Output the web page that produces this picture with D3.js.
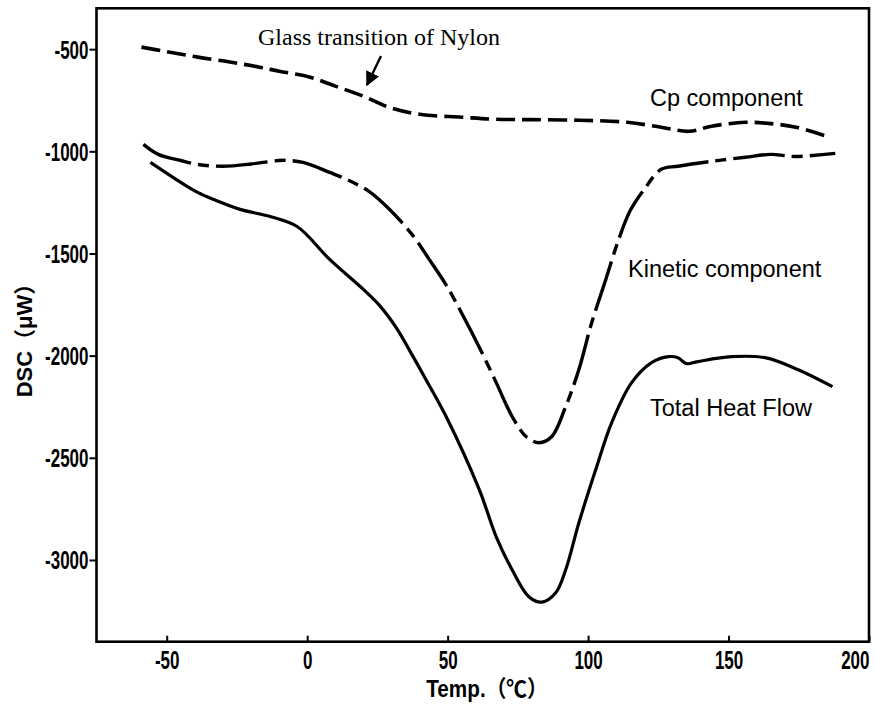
<!DOCTYPE html>
<html>
<head>
<meta charset="utf-8">
<script src="https://cdn.jsdelivr.net/npm/d3@7"></script>
<style>
  html, body { margin: 0; padding: 0; background: #fff; }
  svg { display: block; }
</style>
</head>
<body>
<svg id="chart" width="875" height="704"></svg>
<script>
// ---- Data ----
const cpTemp   = [-59, -50, -39, -27, -17, -10, 1, 10, 20, 29, 40, 55, 67, 80, 97, 114, 126, 136, 144, 156, 164, 174, 186];
const cpValues = [-490, -512, -539, -564, -588, -608, -637, -681, -730, -784, -819, -833, -843, -845, -848, -858, -882, -902, -877, -858, -863, -882, -931];

const kinTemp   = [-58.3, -53, -45, -39, -30, -20, -15.6, -8.6, -1.5, 8, 14, 22, 29, 37.5, 43.5, 49.5, 55.3, 61.3, 67.3, 73, 78, 82.5, 87, 92, 96.7, 101.3, 106.3, 110.9, 115, 120, 126, 132, 144, 156, 165, 173.6, 188];
const kinValues = [-966, -1015, -1045, -1064, -1073, -1062, -1054, -1044, -1054, -1103, -1137, -1196, -1280, -1410, -1530, -1655, -1800, -1960, -2132, -2299, -2397, -2426, -2397, -2250, -2069, -1838, -1627, -1431, -1290, -1186, -1088, -1073, -1049, -1029, -1015, -1025, -1010];

const totTemp   = [-55.8, -45, -39, -33.4, -23.9, -13.2, -3.6, 8, 20, 25.8, 31.8, 37.5, 42.4, 49.5, 61.3, 67.3, 73, 79, 83.6, 88.4, 92, 96.7, 102.7, 108.4, 115.5, 122.6, 128.6, 132, 135, 139, 151, 163, 174.8, 187];
const totValues = [-1054, -1152, -1201, -1235, -1284, -1319, -1368, -1529, -1676, -1755, -1865, -2000, -2120, -2299, -2657, -2887, -3049, -3181, -3206, -3162, -3049, -2819, -2559, -2328, -2132, -2034, -2005, -2010, -2039, -2029, -2005, -2010, -2069, -2152];

const xTicks = [-50, 0, 50, 100, 150, 200];
const yTicks = [-3000, -2500, -2000, -1500, -1000, -500];

const xTitle = "Temp.（℃）";
const yTitle = "DSC（μW）";
const seriesLabels = ["Cp component", "Kinetic component", "Total Heat Flow"];
const annotation = "Glass transition of Nylon";

// ---- Layout ----
const svg = d3.select("#chart");
const L = 96.5, R = 869, T = 8.3, B = 641.7;

const x = d3.scaleLinear().domain([-75, 200]).range([L, R]);
const y = d3.scaleLinear().domain([-3400, -300]).range([B, T]);

const sansFont = '"Liberation Sans",Arial,"Noto Sans CJK JP",sans-serif';
const SX = 0.68; // horizontal squeeze of the condensed tick font

// Axes
const yAxis = d3.axisLeft(y).tickValues(yTicks).tickSizeInner(7).tickSizeOuter(0).tickPadding(1)
  .tickFormat(d => String(d));
const gy = svg.append("g").attr("transform", `translate(${L},0)`).call(yAxis);

const xAxis = d3.axisBottom(x).tickValues(xTicks).tickSizeInner(-6).tickSizeOuter(0).tickPadding(10)
  .tickFormat(d => String(d));
const gx = svg.append("g").attr("transform", `translate(0,${B})`).call(xAxis);

[gx, gy].forEach(g => {
  g.select(".domain").remove();
  g.selectAll(".tick line").attr("stroke", "#000").attr("stroke-width", 2);
  g.selectAll(".tick text")
    .attr("fill", "#000")
    .style("font-family", sansFont)
    .style("font-weight", "bold")
    .style("font-size", "25px");
});
gy.selectAll(".tick text").attr("dy", "0.36em").attr("x", -8 / SX).attr("transform", `scale(${SX},1)`);
gx.selectAll(".tick text").attr("transform", `scale(${SX},1)`);
gx.selectAll(".tick text").filter(d => d === 200).attr("text-anchor", "end").attr("x", 0);

// Frame
svg.append("rect")
  .attr("x", L).attr("y", T).attr("width", R - L).attr("height", B - T)
  .attr("fill", "none").attr("stroke", "#000").attr("stroke-width", 2.6);

// Lines
const line = d3.line().x(d => x(d[0])).y(d => y(d[1])).curve(d3.curveCatmullRom.alpha(0.5));

svg.append("path")
  .datum(d3.zip(cpTemp, cpValues))
  .attr("d", line).attr("fill", "none").attr("stroke", "#000")
  .attr("stroke-width", 3.6).attr("stroke-dasharray", "19,7");

svg.append("path")
  .datum(d3.zip(kinTemp, kinValues))
  .attr("d", line).attr("fill", "none").attr("stroke", "#000")
  .attr("stroke-width", 3.4).attr("stroke-dasharray", "52,7,11,7");

svg.append("path")
  .datum(d3.zip(totTemp, totValues))
  .attr("d", line).attr("fill", "none").attr("stroke", "#000")
  .attr("stroke-width", 3.2).attr("stroke-linejoin", "round");

// Series labels
const labelPos = [[650, 106], [628, 277], [650, 416]];
seriesLabels.forEach((s, i) => {
  svg.append("text").attr("x", labelPos[i][0]).attr("y", labelPos[i][1])
    .style("font-family", sansFont).style("font-size", "23.5px").attr("fill", "#000").text(s);
});

// Annotation
svg.append("text").attr("x", 258).attr("y", 45)
  .style("font-family", '"Liberation Serif","Times New Roman",serif').style("font-size", "24px")
  .attr("fill", "#000").text(annotation);

svg.append("defs").append("marker")
  .attr("id", "ah").attr("viewBox", "0 0 10 10").attr("refX", 9).attr("refY", 5)
  .attr("markerWidth", 6).attr("markerHeight", 6).attr("markerUnits", "strokeWidth").attr("orient", "auto")
  .append("path").attr("d", "M0,0 L10,5 L0,10 Z").attr("fill", "#000");
svg.append("line").attr("x1", 381).attr("y1", 56).attr("x2", 367).attr("y2", 85)
  .attr("stroke", "#000").attr("stroke-width", 2.4).attr("marker-end", "url(#ah)");

// Axis titles
svg.append("text")
  .attr("transform", "translate(487,697) scale(0.9,1)").attr("text-anchor", "middle")
  .style("font-family", sansFont).style("font-weight", "bold").style("font-size", "23px")
  .attr("fill", "#000").text(xTitle);

svg.append("text")
  .attr("transform", "translate(32,335) rotate(-90)").attr("text-anchor", "middle")
  .style("font-family", sansFont).style("font-weight", "bold").style("font-size", "22px")
  .attr("fill", "#000").text(yTitle);
</script>
</body>
</html>
